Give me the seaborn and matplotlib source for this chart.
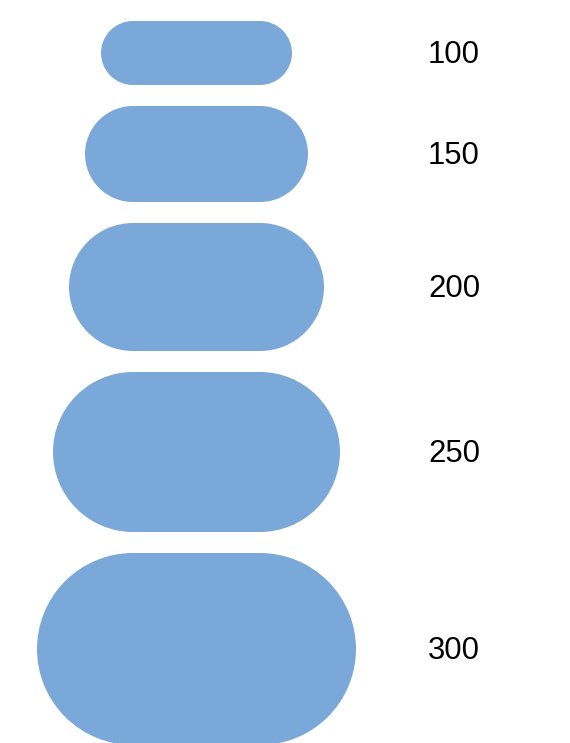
import matplotlib
matplotlib.use('Agg')
import matplotlib.pyplot as plt
from matplotlib.patches import Rectangle, Circle
import seaborn as sns

# legend values (size encoding)
values = [100, 150, 200, 250, 300]
labels = ['100', '150', '200', '250', '300']

fill_color = '#7aa8d9'

sns.set_theme(style='white')
plt.rcParams['font.family'] = ['Liberation Sans', 'DejaVu Sans']

fig = plt.figure(figsize=(5.7, 7.43), dpi=100)
ax = fig.add_axes([0, 0, 1, 1])
ax.set_xlim(0, 570)
ax.set_ylim(743, 0)
ax.axis('off')

px_per_unit = 0.64   # capsule height per value unit
flat_part = 127      # straight section of every capsule
gap = 21
cx = 196.5
top = 21

for v, lab in zip(values, labels):
    h = v * px_per_unit
    r = h / 2
    cy = top + r
    # capsule = flat middle + two half circles
    ax.add_patch(Rectangle((cx - flat_part / 2, top), flat_part, h,
                           facecolor=fill_color, edgecolor='none'))
    ax.add_patch(Circle((cx - flat_part / 2, cy), r, facecolor=fill_color, edgecolor='none'))
    ax.add_patch(Circle((cx + flat_part / 2, cy), r, facecolor=fill_color, edgecolor='none'))
    ax.text(428, cy + 2, lab, fontsize=22.4, color='black',
            ha='left', va='center')
    top += h + gap

fig.savefig('out.png', dpi=100)
